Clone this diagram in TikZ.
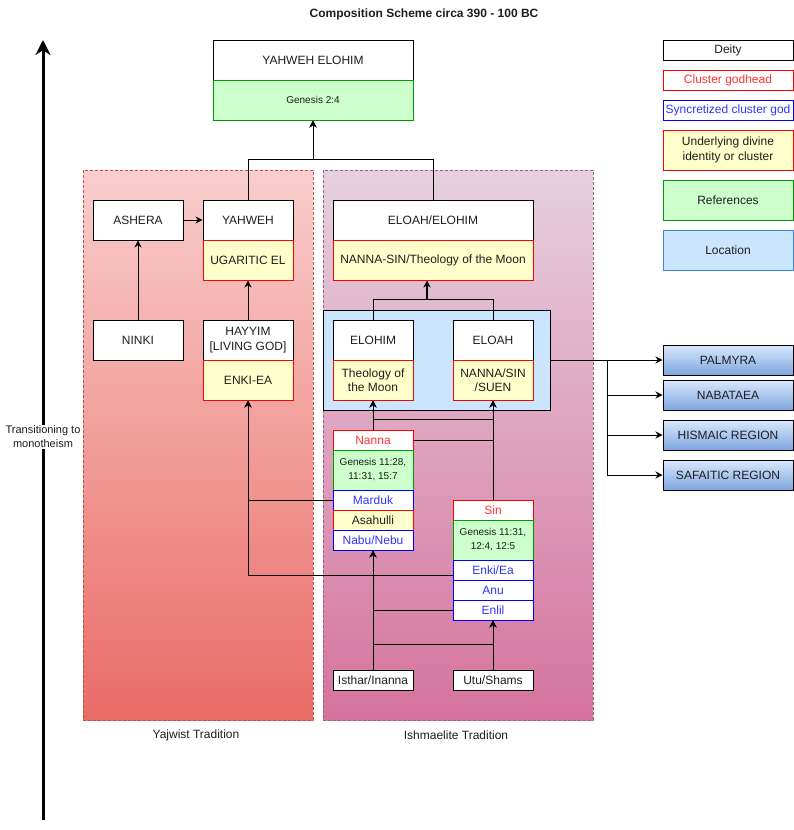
\documentclass[tikz,border=0pt]{standalone}
\usepackage{fontspec}
\setmainfont{Liberation Sans}
\usetikzlibrary{arrows.meta}
\definecolor{ink}{HTML}{1E1E1E}
\definecolor{godred}{HTML}{FF3333}
\definecolor{syncblue}{HTML}{3333FF}
\definecolor{underyellow}{HTML}{FFFFCC}
\definecolor{refgreen}{HTML}{CCFFCC}
\definecolor{refstroke}{HTML}{009900}
\definecolor{locblue}{HTML}{CCE5FF}
\definecolor{locstroke}{HTML}{3D85D8}
\definecolor{regtop}{HTML}{DAE8FC}
\definecolor{regbot}{HTML}{7EA6E0}
\definecolor{lefttop}{HTML}{F8CECC}
\definecolor{leftbot}{HTML}{EA6B66}
\definecolor{leftline}{HTML}{B85450}
\definecolor{righttop}{HTML}{E6D0DE}
\definecolor{rightbot}{HTML}{D5739D}
\definecolor{rightline}{HTML}{996185}
\begin{document}
\begin{tikzpicture}[x=1pt,y=-1pt,line width=1pt,>={Stealth[length=7pt,width=7pt]},
  every node/.style={font=\fontsize{12}{14.5}\selectfont,text=ink,inner sep=0pt,align=center},
  dims/.style 2 args={minimum width=#1pt,minimum height=#2pt},
  deity/.style={draw=black,fill=white},
  godhead/.style={draw=red,fill=white,text=godred},
  syncr/.style={draw=blue,fill=white,text=syncblue},
  under/.style={draw=red,fill=underyellow},
  refs/.style={draw=refstroke,fill=refgreen,font=\fontsize{10}{14}\selectfont},
  region/.style={draw=black,top color=regtop,bottom color=regbot,dims={130}{30}},
  panel/.style={dashed,dash pattern=on 3pt off 2pt,dims={230}{550}}]
  \useasboundingbox (0,0) rectangle (794,830);
  \node[font=\bfseries\fontsize{12}{14}\selectfont] (title) at (424,14) {Composition Scheme circa 390 - 100 BC};
  % traditions
  \node[panel,draw=leftline,top color=lefttop,bottom color=leftbot] (yajwist) at (198,445) {};
  \node[panel,draw=rightline,top color=righttop,bottom color=rightbot,dims={270}{550}] (ishmael) at (458,445) {};
  \node (yajlabel) at (196,735) {Yajwist Tradition};
  \node (ishlabel) at (456,735) {Ishmaelite Tradition};
  \node[draw=black,fill=locblue,dims={227}{100}] (locbox) at (436.5,360) {};
  % top
  \node[deity,dims={200}{40}] (yelohim) at (313,60) {YAHWEH ELOHIM};
  \node[refs,dims={200}{40}] (gen24) at (313,100) {Genesis 2:4};
  \node[deity,dims={90}{40}] (ashera) at (138,220) {ASHERA};
  \node[deity,dims={90}{40}] (yahweh) at (248,220) {YAHWEH};
  \node[under,dims={90}{40}] (ugarel) at (248,260) {UGARITIC EL};
  \node[deity,dims={200}{40}] (eloel) at (433,220) {ELOAH/ELOHIM};
  \node[under,dims={200}{40}] (nsmoon) at (433,260) {NANNA-SIN/Theology of the Moon};
  \node[deity,dims={90}{40}] (ninki) at (138,340) {NINKI};
  \node[deity,dims={90}{40}] (hayyim) at (248,340) {HAYYIM\\{}[LIVING GOD]};
  \node[under,dims={90}{40}] (enkiea) at (248,380) {ENKI-EA};
  \node[deity,dims={80}{40}] (elohim) at (373,340) {ELOHIM};
  \node[under,dims={80}{40}] (theol) at (373,380) {Theology of\\the Moon};
  \node[deity,dims={80}{40}] (eloah) at (493,340) {ELOAH};
  \node[under,dims={80}{40}] (nsuen) at (493,380) {NANNA/SIN\\/SUEN};
  % clusters
  \node[godhead,dims={80}{20}] (nanna) at (373,440) {Nanna};
  \node[refs,dims={80}{40}] (gen1128) at (373,470) {Genesis 11:28,\\11:31, 15:7};
  \node[syncr,dims={80}{20}] (marduk) at (373,500) {Marduk};
  \node[under,dims={80}{20}] (asahulli) at (373,520) {Asahulli};
  \node[syncr,dims={80}{20}] (nabu) at (373,540) {Nabu/Nebu};
  \node[godhead,dims={80}{20}] (sin) at (493,510) {Sin};
  \node[refs,dims={80}{40}] (gen1131) at (493,540) {Genesis 11:31,\\12:4, 12:5};
  \node[syncr,dims={80}{20}] (ea) at (493,570) {Enki/Ea};
  \node[syncr,dims={80}{20}] (anu) at (493,590) {Anu};
  \node[syncr,dims={80}{20}] (enlil) at (493,610) {Enlil};
  \node[deity,dims={80}{20}] (isthar) at (373,680) {Isthar/Inanna};
  \node[deity,dims={80}{20}] (utu) at (493,680) {Utu/Shams};
  % legend
  \node[deity,dims={130}{20}] (lgdeity) at (728,50) {Deity};
  \node[godhead,dims={130}{20}] (lggod) at (728,80) {Cluster godhead};
  \node[syncr,dims={130}{20}] (lgsync) at (728,110) {Syncretized cluster god};
  \node[under,dims={130}{40}] (lgunder) at (728,150) {Underlying divine\\identity or cluster};
  \node[refs,dims={130}{40},font=\fontsize{12}{14.5}\selectfont] (lgref) at (728,200) {References};
  \node[draw=locstroke,fill=locblue,dims={130}{40}] (lgloc) at (728,250) {Location};
  \node[region] (palmyra) at (728,360) {PALMYRA};
  \node[region] (nabataea) at (728,395) {NABATAEA};
  \node[region] (hismaic) at (728,435) {HISMAIC REGION};
  \node[region] (safaitic) at (728,475) {SAFAITIC REGION};
  % connectors
  \draw[->] (yahweh.north) -- ++(0,-40) -| (gen24.south);
  \draw[->] (eloel.north) -- ++(0,-40) -| (gen24.south);
  \draw[->] (ashera.east) -- (yahweh.west);
  \draw[->] (ninki.north) -- (ashera.south);
  \draw[->] (hayyim.north) -- (ugarel.south);
  \draw (elohim.north) -- ++(0,-20) coordinate (fork) -| (eloah.north);
  \coordinate (moonin) at ([xshift=-6pt]nsmoon.south);
  \draw[->,line width=2pt] (moonin |- fork) -- (moonin);
  \draw[->] (locbox.east |- palmyra) -- (palmyra.west);
  \foreach \r in {nabataea,hismaic,safaitic}
    \draw[->] (locbox.east |- palmyra) -- ++(57,0) |- (\r.west);
  \draw[->] (nanna.north) -- (theol.south);
  \draw[->] (nanna.east) -| (nsuen.south);
  \draw[->] (sin.north) -- (nsuen.south);
  \draw[->] (sin.north) -- ++(0,-80) -| (theol.south);
  \draw[->] (marduk.west) -| (enkiea.south);
  \draw[->] ([yshift=-5pt]ea.west) -| (enkiea.south);
  \draw[->] (isthar.north) -- (nabu.south);
  \draw[->] (enlil.west) -| (nabu.south);
  \draw[->] (isthar.north) -- ++(0,-25) -| (enlil.south);
  \draw[->] (utu.north) -- (enlil.south);
  % timeline
  \coordinate (tbase) at (43,820);
  \coordinate (ttop) at (43,40);
  \draw[-{Stealth[length=15pt,width=15pt]},line width=3pt] (tbase) -- (ttop);
  \node[fill=white,inner ysep=1pt,font=\fontsize{11}{14}\selectfont] (trans) at (43,437) {Transitioning to\\monotheism};
\end{tikzpicture}
\end{document}
